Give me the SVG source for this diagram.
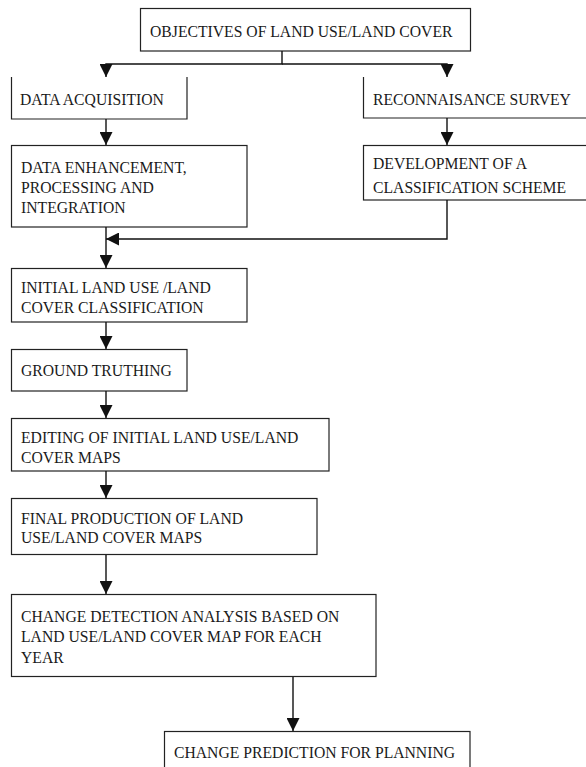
<svg xmlns="http://www.w3.org/2000/svg" width="586" height="767" viewBox="0 0 586 767">
<defs>
<style>
.box{fill:#fff;stroke:#222;stroke-width:1.2}
.open{fill:none;stroke:#222;stroke-width:1.2}
.lbl{font-family:"Liberation Serif","Times New Roman",serif;font-size:15.7px;fill:#1a1a1a}
.conn{fill:none;stroke:#111;stroke-width:1.4}
</style>
<marker id="arr" viewBox="0 0 10 10" refX="10" refY="5" markerUnits="userSpaceOnUse" markerWidth="13" markerHeight="13" orient="auto">
<path d="M0,0 L10,5 L0,10 z" fill="#111"/>
</marker>
</defs>
<rect width="586" height="767" fill="#fff"/>

<g id="n-objectives">
<rect class="box" x="140.5" y="8.5" width="330" height="42.5"/>
<text class="lbl" transform="translate(150,37) scale(1,1.12)">OBJECTIVES OF LAND USE/LAND COVER</text>
</g>

<g id="n-acquisition">
<rect x="11" y="77" width="176" height="42" fill="#fff"/>
<path class="open" d="M11.5,77 V119 H187 V77"/>
<text class="lbl" transform="translate(20,105) scale(1,1.12)">DATA ACQUISITION</text>
</g>

<g id="n-reconnaisance">
<rect x="363" y="77" width="230" height="41" fill="#fff"/>
<path class="open" d="M363.5,77 V118 H592"/>
<text class="lbl" transform="translate(373,105) scale(1,1.12)">RECONNAISANCE SURVEY</text>
</g>

<g id="n-enhancement">
<rect class="box" x="11.5" y="145.5" width="235.5" height="81.5"/>
<text class="lbl" transform="translate(21,173) scale(1,1.12)"><tspan x="0" y="0">DATA ENHANCEMENT,</tspan><tspan x="0" y="17.9">PROCESSING AND</tspan><tspan x="0" y="35.7">INTEGRATION</tspan></text>
</g>

<g id="n-development">
<rect class="box" x="363.5" y="145.5" width="240" height="54.5"/>
<text class="lbl" transform="translate(373,169) scale(1,1.12)"><tspan x="0" y="0">DEVELOPMENT OF A</tspan><tspan x="0" y="21">CLASSIFICATION SCHEME</tspan></text>
</g>

<g id="n-initial">
<rect class="box" x="11.5" y="268.5" width="235.5" height="53.5"/>
<text class="lbl" transform="translate(21,293) scale(1,1.12)"><tspan x="0" y="0">INITIAL LAND USE /LAND</tspan><tspan x="0" y="17.9">COVER CLASSIFICATION</tspan></text>
</g>

<g id="n-ground">
<rect class="box" x="11.5" y="349.5" width="175.5" height="41.5"/>
<text class="lbl" transform="translate(21,376) scale(1,1.12)">GROUND TRUTHING</text>
</g>

<g id="n-editing">
<rect class="box" x="11.5" y="418.5" width="317.5" height="52.5"/>
<text class="lbl" transform="translate(21,443) scale(1,1.12)"><tspan x="0" y="0">EDITING OF INITIAL LAND USE/LAND</tspan><tspan x="0" y="17.9">COVER MAPS</tspan></text>
</g>

<g id="n-final">
<rect class="box" x="11.5" y="498.5" width="305.5" height="56"/>
<text class="lbl" transform="translate(21,524) scale(1,1.12)"><tspan x="0" y="0">FINAL PRODUCTION OF LAND</tspan><tspan x="0" y="17">USE/LAND COVER MAPS</tspan></text>
</g>

<g id="n-change-detection">
<rect class="box" x="11.5" y="594.5" width="364.5" height="82"/>
<text class="lbl" transform="translate(21,622) scale(1,1.12)"><tspan x="0" y="0">CHANGE DETECTION ANALYSIS BASED ON</tspan><tspan x="0" y="17.9">LAND USE/LAND COVER MAP FOR EACH</tspan><tspan x="0" y="36.6">YEAR</tspan></text>
</g>

<g id="n-prediction">
<rect class="box" x="164.5" y="731.5" width="305.5" height="45"/>
<text class="lbl" transform="translate(174,758) scale(1,1.12)">CHANGE PREDICTION FOR PLANNING</text>
</g>

<g id="connectors">
<path class="conn" d="M282,51 V64 H106 V77" marker-end="url(#arr)"/>
<path class="conn" d="M282,64 H447 V77" marker-end="url(#arr)"/>
<path class="conn" d="M106,119 V145" marker-end="url(#arr)"/>
<path class="conn" d="M447,118 V145" marker-end="url(#arr)"/>
<path class="conn" d="M106,227 V268" marker-end="url(#arr)"/>
<path class="conn" d="M447,200 V239 H106" marker-end="url(#arr)"/>
<path class="conn" d="M106,322 V349" marker-end="url(#arr)"/>
<path class="conn" d="M106,391 V418" marker-end="url(#arr)"/>
<path class="conn" d="M106,471 V498" marker-end="url(#arr)"/>
<path class="conn" d="M106,555 V594" marker-end="url(#arr)"/>
<path class="conn" d="M293,677 V731" marker-end="url(#arr)"/>
</g>
</svg>
